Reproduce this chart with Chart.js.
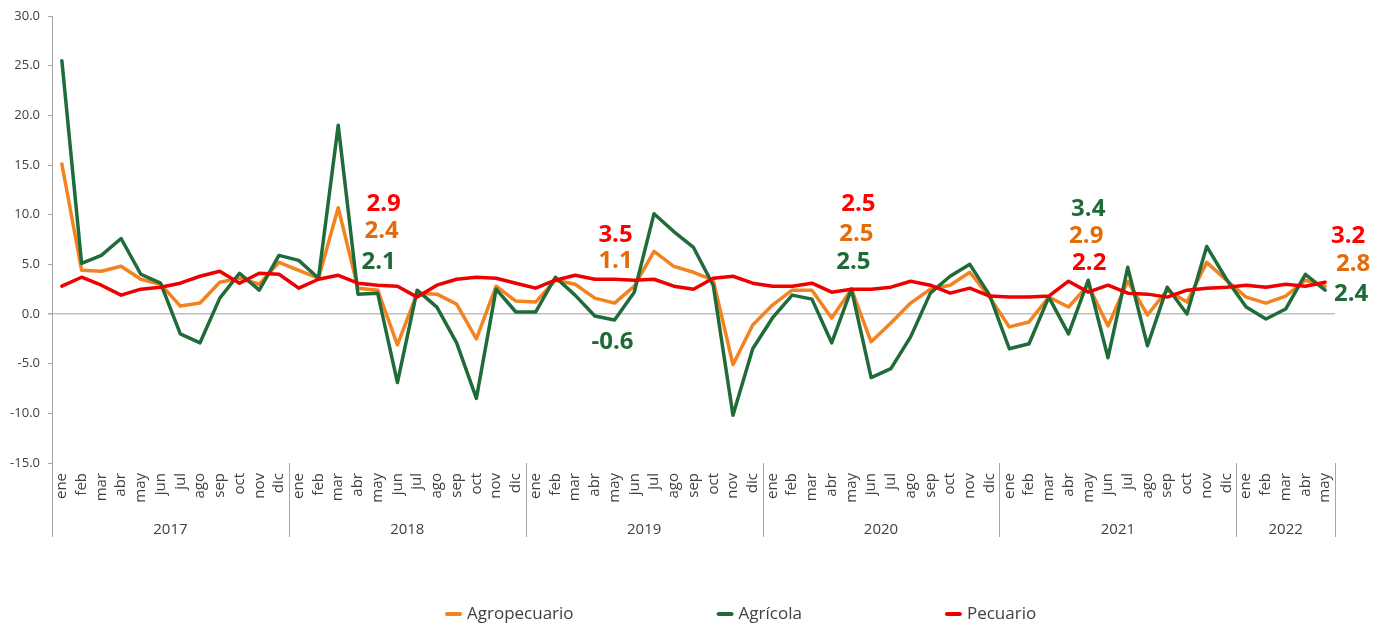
<!DOCTYPE html>
<html><head><meta charset="utf-8">
<script src="https://cdn.jsdelivr.net/npm/chart.js@4.4.0/dist/chart.umd.min.js"></script>
<style>html,body{margin:0;padding:0;background:#fff}</style>
</head><body>
<canvas id="c" width="1385" height="625"></canvas>
<script>
// ---------- DATA ----------
const yearLabels = ['2017', '2018', '2019', '2020', '2021', '2022'];
const monthsPerYear = [12, 12, 12, 12, 12, 5];
const monthNames = ['ene','feb','mar','abr','may','jun','jul','ago','sep','oct','nov','dic'];
const seriesNames = ['Agropecuario', 'Agrícola', 'Pecuario'];

const agropecuario = [
  15.1, 4.4, 4.3, 4.8, 3.5, 3.0, 0.8, 1.1, 3.2, 3.6, 3.0, 5.2,
  4.4, 3.6, 10.7, 2.6, 2.4, -3.1, 2.1, 2.0, 1.0, -2.5, 2.8, 1.3,
  1.2, 3.4, 3.0, 1.6, 1.1, 2.8, 6.3, 4.8, 4.2, 3.4, -5.1, -1.1,
  0.9, 2.4, 2.4, -0.4, 2.5, -2.8, -0.9, 1.1, 2.5, 2.9, 4.2, 1.7,
  -1.3, -0.8, 1.7, 0.7, 2.9, -1.2, 3.3, -0.1, 2.4, 1.2, 5.2, 3.4,
  1.7, 1.1, 1.8, 3.4, 2.8
];
const agricola = [
  25.5, 5.1, 5.9, 7.6, 4.0, 3.1, -2.0, -2.9, 1.6, 4.1, 2.4, 5.9,
  5.4, 3.6, 19.0, 2.0, 2.1, -6.9, 2.4, 0.7, -2.9, -8.5, 2.5, 0.2,
  0.2, 3.7, 1.9, -0.2, -0.6, 2.2, 10.1, 8.3, 6.7, 2.9, -10.2, -3.5,
  -0.4, 1.9, 1.5, -2.9, 2.5, -6.4, -5.5, -2.3, 2.1, 3.8, 5.0, 1.9,
  -3.5, -3.0, 1.7, -2.0, 3.4, -4.4, 4.7, -3.2, 2.7, 0.0, 6.8, 3.5,
  0.7, -0.5, 0.5, 4.0, 2.4
];
const pecuario = [
  2.8, 3.7, 2.9, 1.9, 2.5, 2.7, 3.1, 3.8, 4.3, 3.1, 4.1, 4.0,
  2.6, 3.5, 3.9, 3.1, 2.9, 2.8, 1.7, 2.9, 3.5, 3.7, 3.6, 3.1,
  2.6, 3.4, 3.9, 3.5, 3.5, 3.4, 3.5, 2.8, 2.5, 3.6, 3.8, 3.1,
  2.8, 2.8, 3.1, 2.2, 2.5, 2.5, 2.7, 3.3, 2.9, 2.1, 2.6, 1.8,
  1.7, 1.7, 1.8, 3.3, 2.2, 2.9, 2.1, 2.0, 1.7, 2.4, 2.6, 2.7,
  2.9, 2.7, 3.0, 2.8, 3.2
];
const yTickValues = [-15, -10, -5, 0, 5, 10, 15, 20, 25, 30];
// indexes (months) whose values are written on the chart
const highlightIndexes = [16, 28, 40, 52, 64];

// ---------- STYLE ----------
const lineColors = ['#F4821F', '#1F6B3A', '#EE0000'];
const labelColors = ['#E36C0A', '#1E6B37', '#FF0000'];
const textColor = '#404040';
const axisGray = '#A6A6A6';
// per highlighted month: [dx, y] for [agropecuario, agricola, pecuario]
const labelLayout = [
  [[4, 231], [1, 262], [6, 204]],
  [[1, 261], [-2, 342], [1, 235]],
  [[5, 234], [2, 262], [7, 204]],
  [[-2, 236], [0, 209], [1, 263]],
  [[28, 264], [26, 294], [23, 236]]
];
const legendStyle = { startX: 445, y: 614, gap: 143, markW: 17, markGap: 5, font: '17px "Open Sans"' };

// ---------- BUILD ----------
const categories = [];
yearLabels.forEach((y, yi) => {
  for (let m = 0; m < monthsPerYear[yi]; m++) categories.push(monthNames[m]);
});
const seriesData = [agropecuario, agricola, pecuario];

Chart.defaults.font.family = '"Open Sans", sans-serif';
Chart.defaults.color = textColor;

const extras = {
  id: 'extras',
  afterDraw(chart) {
    const ctx = chart.ctx;
    const xs = chart.scales.x;
    const area = chart.chartArea;
    const half = (xs.getPixelForValue(1) - xs.getPixelForValue(0)) / 2;
    ctx.save();
    // year separators and labels
    ctx.strokeStyle = axisGray;
    ctx.lineWidth = 1;
    let start = 0;
    const bounds = [0];
    monthsPerYear.forEach(n => { start += n; bounds.push(start); });
    const edge = b => b < categories.length ? xs.getPixelForValue(b) - half : xs.getPixelForValue(categories.length - 1) + half;
    bounds.forEach(b => {
      const x = Math.round(edge(b)) + 0.5;
      ctx.beginPath();
      ctx.moveTo(x, area.bottom);
      ctx.lineTo(x, area.bottom + 74);
      ctx.stroke();
    });
    ctx.fillStyle = textColor;
    ctx.font = '15px "Open Sans"';
    ctx.textAlign = 'center';
    ctx.textBaseline = 'middle';
    yearLabels.forEach((y, i) => {
      const x = (edge(bounds[i]) + edge(bounds[i + 1])) / 2;
      ctx.fillText(y, x, area.bottom + 67);
    });
    // highlighted values
    ctx.font = 'bold 24px "Open Sans"';
    highlightIndexes.forEach((idx, hi) => {
      seriesData.forEach((arr, si) => {
        const [dx, y] = labelLayout[hi][si];
        ctx.fillStyle = labelColors[si];
        ctx.fillText(arr[idx].toFixed(1), xs.getPixelForValue(idx) + dx, y);
      });
    });
    // legend
    ctx.font = legendStyle.font;
    ctx.textAlign = 'left';
    let lx = legendStyle.startX;
    seriesNames.forEach((n, i) => {
      ctx.strokeStyle = lineColors[i];
      ctx.lineWidth = 4;
      ctx.lineCap = 'round';
      ctx.beginPath();
      ctx.moveTo(lx + 2, legendStyle.y);
      ctx.lineTo(lx + legendStyle.markW - 2, legendStyle.y);
      ctx.stroke();
      ctx.fillStyle = textColor;
      ctx.fillText(n, lx + legendStyle.markW + legendStyle.markGap, legendStyle.y);
      lx += legendStyle.markW + legendStyle.markGap + ctx.measureText(n).width + legendStyle.gap;
    });
    ctx.restore();
  }
};

new Chart(document.getElementById('c'), {
  type: 'line',
  data: {
    labels: categories,
    datasets: seriesNames.map((name, i) => ({
      label: name,
      data: seriesData[i],
      borderColor: lineColors[i],
      backgroundColor: lineColors[i],
      borderWidth: 3.5,
      pointRadius: 0,
      tension: 0,
      borderCapStyle: 'round',
      borderJoinStyle: 'round',
      order: 3 - i
    }))
  },
  options: {
    responsive: false,
    animation: false,
    devicePixelRatio: 1,
    layout: { padding: { top: 16, right: 50, bottom: 82, left: 0 } },
    plugins: { legend: { display: false }, tooltip: { enabled: false }, title: { display: false } },
    scales: {
      x: {
        type: 'category',
        offset: true,
        grid: { display: false, drawTicks: false },
        border: { display: false },
        ticks: { autoSkip: false, maxRotation: 90, minRotation: 90, padding: 10, font: { size: 15 }, color: textColor },
        afterFit: s => { s.height = 80; }
      },
      y: {
        min: -15, max: 30,
        afterBuildTicks: s => { s.ticks = yTickValues.map(v => ({ value: v })); },
        ticks: { callback: v => Number(v).toFixed(1), font: { size: 13 }, color: textColor, padding: 8 },
        grid: {
          color: c => (c.tick && c.tick.value === 0) ? '#BFBFBF' : 'rgba(0,0,0,0)',
          lineWidth: c => (c.tick && c.tick.value === 0) ? 1.5 : 1,
          drawTicks: true, tickLength: 4, tickColor: axisGray
        },
        border: { display: true, color: axisGray, width: 1 },
        afterFit: s => { s.width = 52; }
      }
    }
  },
  plugins: [extras]
});
</script>
</body></html>
